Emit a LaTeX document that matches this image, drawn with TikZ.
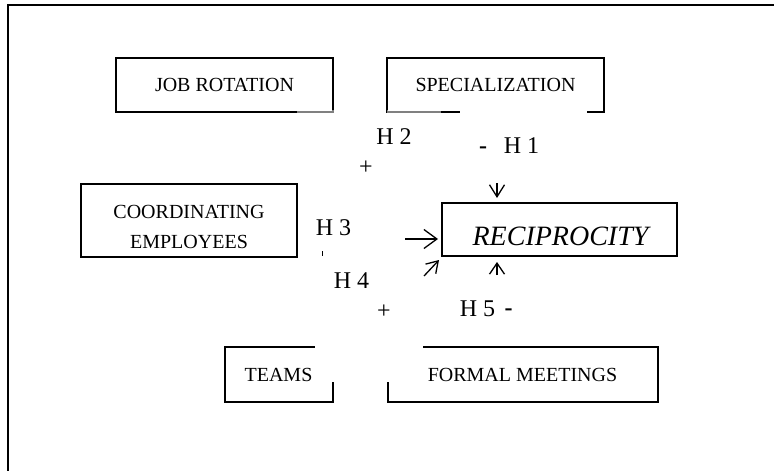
\documentclass[tikz,border=0pt]{standalone}
\usepackage{fontspec}
\setmainfont{Liberation Serif}
\usetikzlibrary{arrows.meta}
\begin{document}
\begin{tikzpicture}[x=1pt,y=-1pt,
  box/.style={draw, line width=1.5pt, inner sep=0pt},
  lbl/.style={inner sep=0pt, anchor=base, font=\fontsize{20}{24}\selectfont},
  hl/.style={inner sep=0pt, anchor=base, font=\fontsize{24}{28}\selectfont},
  pl/.style={inner sep=0pt, anchor=center, font=\fontsize{24}{28}\selectfont},
  gap/.style={fill=white, draw=none},
  arr/.style={line width=1.3pt}]
\useasboundingbox (0,0) rectangle (774,471);
% outer frame (runs off the page on right and bottom)
\begin{scope}
  \clip (0,0) rectangle (774,471);
  \draw[line width=2pt] (7.5,490) -- (7.5,4.5) -- (790,4.5);
\end{scope}
% boxes
\node[box, minimum width=217pt, minimum height=54pt] (job) at (224.5,85) {};
\node[box, minimum width=217pt, minimum height=54pt] (spec) at (495.5,85) {};
\node[box, minimum width=216pt, minimum height=73pt] (coord) at (189,220.5) {};
\node[box, minimum width=235pt, minimum height=53pt] (recip) at (559.5,229.5) {};
\node[box, minimum width=108pt, minimum height=55pt] (teams) at (279,374.5) {};
\node[box, minimum width=270pt, minimum height=55pt] (formal) at (523,374.5) {};
% gaps in the box outlines
\fill[gap] (460,108) rectangle (587,117);
\fill[gap, opacity=.5] (387,110) rectangle (441,114);
\fill[gap, opacity=.5] (297,110) rectangle (333.5,114);
\fill[gap] (315,343) rectangle (423,382);
% box labels
\node[lbl] (tjob) at (224.5,91.7) {JOB ROTATION};
\node[lbl] (tspec) at (495.5,91) {SPECIALIZATION};
\node[lbl] (tcoord1) at (189,218.3) {COORDINATING};
\node[lbl] (tcoord2) at (189,248.3) {EMPLOYEES};
\node[inner sep=0pt, anchor=base, font=\fontsize{28}{32}\selectfont\itshape] (trecip) at (560.5,245) {RECIPROCITY};
\node[lbl] (tteams) at (278.5,381) {TEAMS};
\node[lbl] (tformal) at (522.5,381) {FORMAL MEETINGS};
% hypothesis labels
\node[hl] (h2) at (394,144) {H 2};
\node[pl] (p2) at (366,168) {+};
\node[hl] (m1) at (483,153) {\textbf{-}};
\node[hl] (h1) at (521.5,153) {H 1};
\node[hl] (h3) at (333.5,235) {H 3};
\node[hl] (h4) at (351.5,288) {H 4};
\node[pl] (p4) at (384,312) {+};
\node[hl] (h5) at (477.5,316.7) {H 5};
\node[hl] (m5) at (508.5,315) {\textbf{-}};
\draw[line width=0.8pt] (322,251) -- (322,256);
% arrow stubs
\coordinate (a3t) at (405,239);  \coordinate (a3h) at (438,239);
\coordinate (a1t) at (497,183);  \coordinate (a1h) at (497,198);
\coordinate (a5t) at (497,275);  \coordinate (a5h) at (497,262);
\coordinate (a4t) at (424,276);  \coordinate (a4h) at (439,260);
\draw[arr, -{Straight Barb[length=13pt,width=19pt,line width=1.3pt]}] (a3t) -- (a3h);
\draw[arr, -{Straight Barb[length=12pt,width=15pt,line width=1.3pt]}] (a1t) -- (a1h);
\draw[arr, -{Straight Barb[length=11pt,width=15pt,line width=1.3pt]}] (a5t) -- (a5h);
\draw[arr, -{Straight Barb[length=11pt,width=14pt,line width=1.3pt]}] (a4t) -- (a4h);
\end{tikzpicture}
\end{document}
